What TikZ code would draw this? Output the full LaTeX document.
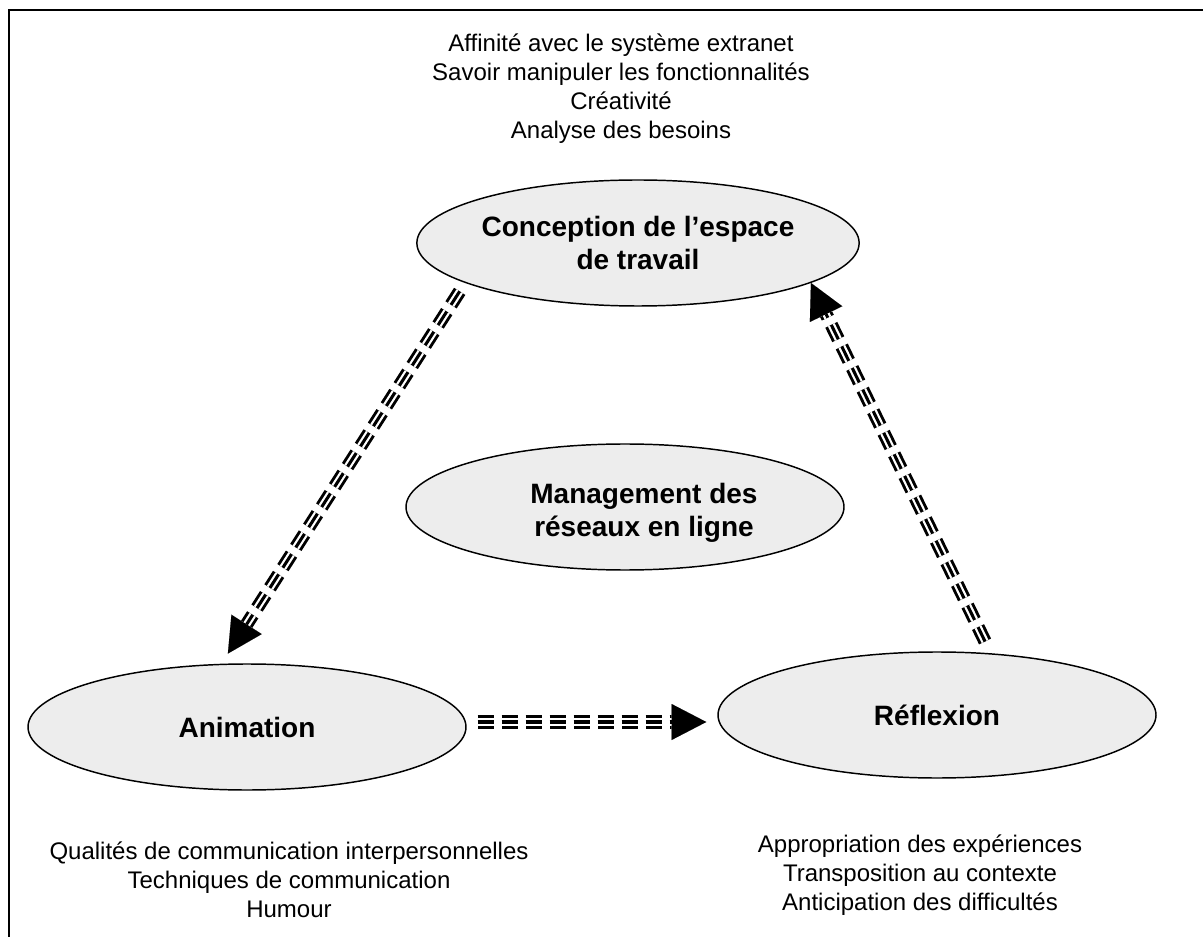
\documentclass[tikz,border=0pt]{standalone}
\usepackage{fontspec}
\setmainfont{Liberation Sans}
\usetikzlibrary{shapes.geometric,arrows.meta}

\begin{document}
\begin{tikzpicture}[x=0.75pt,y=-0.75pt]

  % Definitions
  \tikzstyle{Competence} = [ellipse, draw=black, line width=1.1pt, fill=black!7, minimum width=328.5pt, minimum height=94.5pt, inner sep=0pt, align=center, font=\fontsize{21pt}{24.75pt}\selectfont\bfseries]
  \tikzstyle{Titre} = [align=center, inner sep=0pt, font=\fontsize{21pt}{24.75pt}\selectfont\bfseries]
  \tikzstyle{Liste} = [align=center, inner sep=0pt, font=\fontsize{18pt}{21.75pt}\selectfont]
  \tikzstyle{tripleArrow} = [line width=2.3pt, dash pattern=on 12pt off 6pt, -{Triangle[length=26pt,width=27pt,line width=0pt]}, preaction={draw, line width=10pt, dash pattern=on 12pt off 6pt}, preaction={draw=white, line width=5.6pt, dash pattern=on 12pt off 6pt}]

  \useasboundingbox (0,0) rectangle (1203,937);
  \draw [line width=1.5pt] (9,937) -- (9,10.5) -- (1203,10.5);

  \node (conc) [Competence] at (638,243) {Conception de l’espace\\de travail};
  \node (manag) [Competence] at (625,507) {};
  \node (managText) [Titre] at (644,513) {Management des\\réseaux en ligne};
  \node (anim) [Competence] at (247,727) {Animation};
  \node (refl) [Competence] at (937,715) {Réflexion};

  \node (concList) [Liste] at (621,89) {Affinité avec le système extranet\\Savoir manipuler les fonctionnalités\\Créativité\\Analyse des besoins};
  \node (animList) [Liste] at (289,880) {Qualités de communication interpersonnelles\\Techniques de communication\\Humour};
  \node (reflList) [Liste] at (920,875) {Appropriation des expériences\\Transposition au contexte\\Anticipation des difficultés};

  \draw [tripleArrow, shorten <=7.5pt, shorten >=9pt] (conc.193) -- (anim.112);
  \draw [tripleArrow, shorten <=8.25pt, shorten >=8.25pt] ([yshift=3.75pt]anim.east) -- ([yshift=-5.25pt]refl.west);
  \draw [tripleArrow, shorten <=9.75pt] (refl.49) -- (conc.347);

\end{tikzpicture}
\end{document}
